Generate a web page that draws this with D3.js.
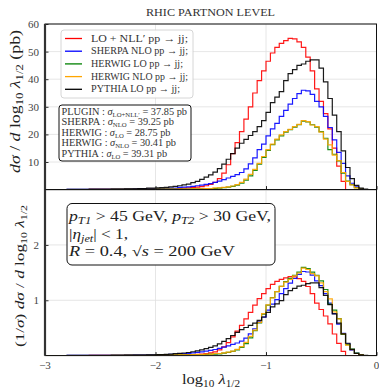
<!DOCTYPE html>
<html>
<head>
<meta charset="utf-8">
<script src="https://cdn.jsdelivr.net/npm/d3@7"></script>
<style>
  body { margin: 0; background: #fff; }
  text { font-family: "Liberation Serif", "DejaVu Serif", serif; fill: #222; }
</style>
</head>
<body>
<svg id="chart" width="379" height="388"></svg>
<script>
// histogram bins: 75 bins of 0.04 from -3 to 0
var binLo = -3, binWidth = 0.04;

var seriesNames = ["LO + NLL′", "SHERPA NLO", "HERWIG LO", "HERWIG NLO", "PYTHIA LO"];
var seriesColors = ["#ff0000", "#0000ff", "#008000", "#ffa500", "#000000"];

// upper panel, dsigma/dlog10 lambda (pb)
var redUpper = [0,0,0,0,0,0,0,0,0,0,
  0.1,0.1,0.1,0.1,0.1,0.1,0.1,0.1,0.1,0.1,
  0.2,0.2,0.2,0.2,0.2,0.2,0.3,0.3,0.3,0.3,
  0.4,0.5,0.6,0.7,0.9,1.1,1.4,1.9,2.6,4.0,
  6,9,13,17,21,25.5,30,35,39.5,43,
  46.5,49.5,51.5,53,54,54.8,54.6,53.5,51.5,48,
  43,36.5,32,27.5,22,15,8.5,3,0,0,
  0,0,0,0,0];
var blueUpper = [0,0,0,0,0,0.1,0.1,0.1,0.1,0.1,
  0.1,0.1,0.1,0.1,0.1,0.2,0.2,0.2,0.2,0.2,
  0.3,0.3,0.3,0.3,0.3,0.4,0.4,0.4,0.5,0.5,
  0.8,0.9,1.0,1.2,1.4,1.6,1.9,2.2,2.6,3.1,
  3.6,4.2,4.8,5.4,6.2,7.5,9.3,11.5,14.5,16.5,
  19.5,22,24,26.5,28.7,31,33,34.8,36,35.8,
  34.5,32,30,26.5,22.5,18,13.5,9.5,5,2.3,
  1.0,0.3,0,0,0];
var greenUpper = [0,0,0,0,0,0,0,0,0,0,
  0,0,0,0,0,0.1,0.1,0.1,0.1,0.1,
  0.1,0.1,0.1,0.1,0.1,0.2,0.2,0.2,0.2,0.2,
  0.2,0.2,0.2,0.3,0.3,0.3,0.3,0.4,0.4,0.5,
  0.7,0.9,1.2,1.6,2.3,3.4,5.0,7.0,9.2,11.7,
  14.2,16.3,18.0,19.5,20.8,21.7,22.6,23.5,24.8,24.5,
  23.5,22.6,21.0,18.6,14.5,12.8,10.4,6.0,3.1,1.8,
  0.7,0.2,0,0,0];
var orangeUpper = [0,0,0,0,0,0,0,0,0,0,
  0,0,0,0,0,0.1,0.1,0.1,0.1,0.1,
  0.1,0.1,0.1,0.1,0.1,0.2,0.2,0.2,0.2,0.2,
  0.2,0.2,0.2,0.3,0.3,0.3,0.4,0.4,0.6,0.6,
  0.8,1.0,1.3,1.8,2.6,3.8,5.5,7.3,9.5,12,
  14.5,16.5,18.3,19.8,21,21.8,22.8,23.6,25,24.6,
  23.4,22.8,20.8,18.3,16.2,12.5,10.5,6.2,3.0,1.7,
  0.6,0.2,0,0,0];
var blackUpper = [0,0,0,0,0,0.1,0.1,0.1,0.1,0.1,
  0.15,0.15,0.15,0.15,0.15,0.2,0.2,0.2,0.3,0.3,
  0.3,0.4,0.4,0.5,0.5,0.6,0.7,0.8,1.0,1.2,
  1.4,1.7,2.0,2.5,3.0,3.7,4.5,5.3,6.3,7.6,
  9.2,11,13,15,16.8,18.2,19.6,21,22.8,25,
  28,31.5,33.5,35.5,39.5,42,43.5,45,45.5,46.5,
  47,47,44,39,33,27,21,14,8,4,
  1.5,0.5,0.2,0,0];

// lower panel, normalised distribution
var redLower = [0,0,0,0,0,0,0,0,0,0,
  0.003,0.003,0.003,0.003,0.003,0.003,0.003,0.003,0.003,0.003,
  0.005,0.005,0.005,0.005,0.005,0.005,0.008,0.008,0.008,0.008,
  0.010,0.013,0.016,0.018,0.023,0.029,0.036,0.049,0.068,0.104,
  0.156,0.234,0.338,0.442,0.546,0.663,0.781,0.911,1.028,1.119,
  1.210,1.288,1.340,1.379,1.405,1.426,1.421,1.392,1.340,1.249,
  1.119,0.950,0.833,0.716,0.572,0.390,0.221,0.078,0,0,
  0,0,0,0,0];
var blueLower = [0,0,0,0,0,0.004,0.004,0.004,0.004,0.004,
  0.004,0.004,0.004,0.004,0.004,0.008,0.008,0.008,0.008,0.008,
  0.013,0.013,0.013,0.013,0.013,0.017,0.017,0.017,0.021,0.021,
  0.034,0.038,0.042,0.051,0.059,0.068,0.080,0.093,0.110,0.131,
  0.152,0.177,0.203,0.228,0.262,0.317,0.393,0.485,0.612,0.696,
  0.823,0.929,1.013,1.119,1.211,1.309,1.393,1.469,1.520,1.511,
  1.456,1.351,1.266,1.119,0.950,0.760,0.570,0.401,0.211,0.097,
  0.042,0.013,0,0,0];
var greenLower = [0,0,0,0,0,0,0,0,0,0,
  0,0,0,0,0,0.006,0.006,0.006,0.006,0.006,
  0.006,0.006,0.006,0.006,0.006,0.013,0.013,0.013,0.013,0.013,
  0.013,0.013,0.013,0.019,0.019,0.019,0.019,0.026,0.026,0.032,
  0.045,0.058,0.077,0.103,0.148,0.218,0.321,0.450,0.591,0.751,
  0.912,1.047,1.156,1.252,1.336,1.394,1.452,1.509,1.593,1.574,
  1.509,1.452,1.349,1.195,0.931,0.822,0.668,0.385,0.199,0.116,
  0.045,0.013,0,0,0];
var orangeLower = [0,0,0,0,0,0,0,0,0,0,
  0,0,0,0,0,0.006,0.006,0.006,0.006,0.006,
  0.006,0.006,0.006,0.006,0.006,0.013,0.013,0.013,0.013,0.013,
  0.013,0.013,0.013,0.019,0.019,0.019,0.025,0.025,0.038,0.038,
  0.051,0.063,0.082,0.114,0.164,0.240,0.348,0.462,0.601,0.759,
  0.917,1.044,1.157,1.252,1.328,1.379,1.442,1.493,1.581,1.556,
  1.480,1.442,1.316,1.157,1.025,0.791,0.664,0.392,0.190,0.108,
  0.038,0.013,0,0,0];
var blackLower = [0,0,0,0,0,0.003,0.003,0.003,0.003,0.003,
  0.004,0.004,0.004,0.004,0.004,0.006,0.006,0.006,0.008,0.008,
  0.008,0.011,0.011,0.014,0.014,0.017,0.020,0.022,0.028,0.034,
  0.039,0.047,0.056,0.070,0.084,0.103,0.126,0.148,0.176,0.212,
  0.257,0.307,0.363,0.419,0.469,0.508,0.547,0.587,0.637,0.698,
  0.782,0.880,0.936,0.992,1.103,1.173,1.215,1.257,1.271,1.299,
  1.313,1.313,1.229,1.089,0.922,0.754,0.587,0.391,0.223,0.112,
  0.042,0.014,0.006,0,0];

var upperSeries = [redUpper, blueUpper, greenUpper, orangeUpper, blackUpper];
var lowerSeries = [redLower, blueLower, greenLower, orangeLower, blackLower];

var xTicks = [-3, -2, -1, 0];
var upperTicks = [10, 20, 30, 40, 50, 60];
var lowerTicks = [1, 2];

var svg = d3.select("#chart");

var x = d3.scaleLinear().domain([-3, 0]).range([45, 376.5]);
var yU = d3.scaleLinear().domain([0, 60]).range([189.6, 24]);
var yL = d3.scaleLinear().domain([0, 3]).range([355.6, 189.6]);

// little helper for mixed roman / italic / subscript text
// (glyphs get stretched a bit to mimic the wider computer modern look)
function rich(sel, parts, len) {
  parts.forEach(function(p) {
    var t = sel.append("tspan").text(p.t);
    if (p.i) t.attr("font-style", "italic");
    if (p.s) t.attr("font-size", p.s);
    if (p.b) t.attr("baseline-shift", p.b);
  });
  if (len) sel.attr("textLength", len).attr("lengthAdjust", "spacingAndGlyphs");
  return sel;
}

function panel(y, ticks, series, clipId) {
  var top = y.range()[1], bottom = y.range()[0];
  var left = x.range()[0], right = x.range()[1];

  svg.append("clipPath").attr("id", clipId).append("rect")
    .attr("x", left).attr("y", top).attr("width", right - left).attr("height", bottom - top);

  // grid
  svg.append("g").selectAll("line").data(ticks).enter().append("line")
    .attr("x1", left).attr("x2", right)
    .attr("y1", function(d) { return y(d); }).attr("y2", function(d) { return y(d); })
    .style("stroke", "#e0e0e0").style("stroke-width", 0.8);
  svg.append("g").selectAll("line").data([-2, -1]).enter().append("line")
    .attr("x1", function(d) { return x(d); }).attr("x2", function(d) { return x(d); })
    .attr("y1", top).attr("y2", bottom)
    .style("stroke", "#e0e0e0").style("stroke-width", 0.8);

  var line = d3.line()
    .x(function(d) { return x(d[0]); })
    .y(function(d) { return y(d[1]); })
    .curve(d3.curveStepAfter);

  var g = svg.append("g").attr("clip-path", "url(#" + clipId + ")");
  series.forEach(function(vals, si) {
    var pts = [[binLo, 0]];
    vals.forEach(function(v, i) { pts.push([binLo + i * binWidth, v]); });
    pts.push([binLo + vals.length * binWidth, vals[vals.length - 1]]);
    pts.push([binLo + vals.length * binWidth, 0]);
    g.append("path").attr("d", line(pts))
      .style("fill", "none")
      .style("stroke", seriesColors[si])
      .style("stroke-width", 1.2)
      .style("stroke-opacity", 0.9);
  });

  // axes with inward ticks
  var ax = svg.append("g").attr("transform", "translate(" + left + ",0)")
    .call(d3.axisLeft(y).tickValues(ticks).tickSize(-3.5).tickPadding(6).tickFormat(d3.format("d")));
  ax.select(".domain").remove();
  ax.selectAll("text").style("font-size", "11px").style("fill", "#444")
    .style("font-family", "'Liberation Serif', serif");
  ax.selectAll("line").style("stroke", "#333");

  var bx = svg.append("g").attr("transform", "translate(0," + bottom + ")")
    .call(d3.axisBottom(x).tickValues(xTicks).tickSize(-3.5).tickFormat(""));
  bx.select(".domain").remove();
  bx.selectAll("line").style("stroke", "#222");

  svg.append("rect").attr("x", left).attr("y", top)
    .attr("width", right - left).attr("height", bottom - top)
    .style("fill", "none").style("stroke", "#111").style("stroke-width", 1);
  svg.append("line").attr("x1", left).attr("x2", left).attr("y1", top).attr("y2", bottom)
    .style("stroke", "#333").style("stroke-width", 2.2);
}

panel(yU, upperTicks, upperSeries, "clipU");
panel(yL, lowerTicks, lowerSeries, "clipL");

// x tick labels on lower panel
svg.append("g").selectAll("text").data(xTicks).enter().append("text")
  .attr("x", function(d) { return x(d); })
  .attr("y", 369)
  .attr("text-anchor", "middle")
  .style("font-size", "11px").style("fill", "#444")
  .text(function(d) { return d === 0 ? "0" : "−" + Math.abs(d); });

// title
svg.append("text").attr("x", 146).attr("y", 16)
  .attr("textLength", 129).attr("lengthAdjust", "spacingAndGlyphs")
  .style("font-size", "11px").style("fill", "#333").text("RHIC PARTNON LEVEL");

// x label
rich(svg.append("text").attr("x", 182).attr("y", 384).style("font-size", "14px"),
  [{t: "log"}, {t: "10", s: "9.5px", b: "-3"}, {t: " λ", i: 1}, {t: "1/2", s: "9.5px", b: "-3"}], 58);

// y labels
rich(svg.append("text").attr("transform", "translate(20,173) rotate(-90)")
  .style("font-size", "14px"),
  [{t: "dσ", i: 1}, {t: " / "}, {t: "d", i: 1}, {t: " log"}, {t: "10", s: "10px", b: "-3"},
   {t: " λ", i: 1}, {t: "1/2", s: "10px", b: "-3"}, {t: " (pb)"}], 143);
rich(svg.append("text").attr("transform", "translate(24,347) rotate(-90)")
  .style("font-size", "13px"),
  [{t: "(1/"}, {t: "σ", i: 1}, {t: ") "}, {t: "dσ", i: 1}, {t: " / "}, {t: "d", i: 1}, {t: " log"},
   {t: "10", s: "9px", b: "-3"}, {t: " λ", i: 1}, {t: "1/2", s: "9px", b: "-3"}], 142);

// legend
var legendLens = [97, 97, 92, 97, 89];
var leg = svg.append("g");
leg.append("rect").attr("x", 61).attr("y", 30).attr("width", 132).attr("height", 68)
  .attr("rx", 3).style("fill", "#fff").style("fill-opacity", 0.85)
  .style("stroke", "#ccc").style("stroke-width", 0.8);
seriesNames.forEach(function(name, i) {
  var yy = 38.5 + i * 12.7;
  leg.append("line").attr("x1", 65).attr("x2", 82).attr("y1", yy).attr("y2", yy)
    .style("stroke", seriesColors[i]).style("stroke-width", 1.3);
  rich(leg.append("text").attr("x", 91).attr("y", yy + 3).style("font-size", "9.5px").style("fill", "#333"),
    [{t: name + " "}, {t: "pp → jj;"}], legendLens[i]);
});

// cross section box
var sig = svg.append("g");
sig.append("rect").attr("x", 59).attr("y", 105).attr("width", 132).attr("height", 56)
  .attr("rx", 3).style("fill", "#fff").style("stroke", "#111").style("stroke-width", 1);
var xsecLines = [
  ["PLUGIN", "LO+NLL′", "37.85", 125.5],
  ["SHERPA", "NLO", "39.25", 112.5],
  ["HERWIG", "LO", "28.75", 109],
  ["HERWIG", "NLO", "30.41", 114.5],
  ["PYTHIA", "LO", "39.31", 105.5]
];
xsecLines.forEach(function(r, i) {
  rich(sig.append("text").attr("x", 61.5).attr("y", 114.5 + i * 10.6).style("font-size", "10px").style("fill", "#333"),
    [{t: r[0] + " : "}, {t: "σ", i: 1}, {t: r[1], s: "6.5px", b: "-2"}, {t: " = " + r[2] + " pb"}], r[3]);
});

// cuts box in lower panel
var cut = svg.append("g");
cut.append("rect").attr("x", 67).attr("y", 203.5).attr("width", 208).attr("height", 61.5)
  .attr("rx", 5).style("fill", "#fff").style("stroke", "#111").style("stroke-width", 1);
rich(cut.append("text").attr("x", 69).attr("y", 221).style("font-size", "14px"),
  [{t: "p", i: 1}, {t: "T1", i: 1, s: "10px", b: "-3"}, {t: " > 45 GeV, "}, {t: "p", i: 1},
   {t: "T2", i: 1, s: "10px", b: "-3"}, {t: " > 30 GeV,"}], 202);
rich(cut.append("text").attr("x", 69).attr("y", 239).style("font-size", "14px"),
  [{t: "|"}, {t: "η", i: 1}, {t: "jet", i: 1, s: "10px", b: "-3"}, {t: "| < 1,"}], 59);
rich(cut.append("text").attr("x", 69).attr("y", 256).style("font-size", "14px"),
  [{t: "R", i: 1}, {t: " = 0.4, √"}, {t: "s", i: 1}, {t: " = 200 GeV"}], 166);
</script>
</body>
</html>
